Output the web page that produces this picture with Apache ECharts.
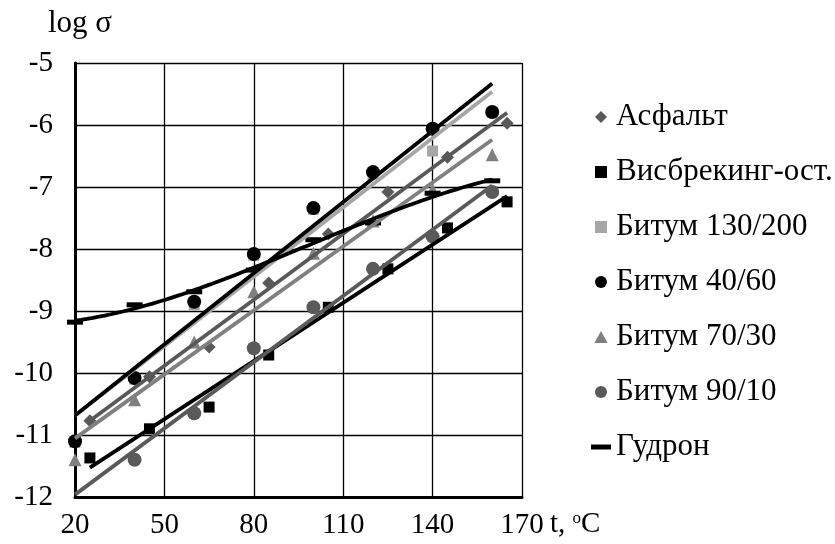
<!DOCTYPE html>
<html>
<head>
<meta charset="utf-8">
<script src="https://cdn.jsdelivr.net/npm/echarts@6/dist/echarts.min.js"></script>
<style>
  html, body { margin: 0; padding: 0; background: #fff; }
  #chart { width: 835px; height: 544px; }
</style>
</head>
<body>
<div id="chart"></div>
<script>
// Temperatures, ºC
const tempsA = [25, 45, 65, 85, 105, 125, 145, 165];
const tempsB = [20, 40, 60, 80, 100, 120, 140, 160];
const temps90 = [40, 60, 80, 100, 120, 140, 160];

// log σ values per material
const asphalt     = [-10.77, -10.06, -9.58, -8.55, -7.76, -7.08, -6.52, -5.97];
const visbreaking = [-11.37, -10.90, -10.55, -9.71, -8.94, -8.32, -7.66, -7.24];
const bit130      = [-11.12, -10.10, -8.90, -8.10, -7.36, -6.80, -6.42, -5.80];
const bit40       = [-11.10, -10.08, -8.85, -8.08, -7.34, -6.76, -6.06, -5.79];
const bit70       = [-11.40, -10.43, -9.50, -8.69, -8.07, -7.55, -7.05, -6.48];
const bit90       = [-11.40, -10.65, -9.60, -8.94, -8.32, -7.80, -7.08];
const tar         = [-9.18, -8.90, -8.69, -8.34, -7.85, -7.58, -7.10, -6.90];

// Axis ticks
const xTicks = [20, 50, 80, 110, 140, 170];
const yTicks = [-12, -11, -10, -9, -8, -7, -6, -5];

// Trend-line span (ºC) for each material
const trendFrom = [25, 25, 20, 20, 20, 20, 20];
const trendTo   = [165, 165, 160, 160, 160, 160, 160];

const FONT = 'Liberation Serif';

function zip(xs, ys) { return xs.map((x, i) => [x, ys[i]]); }

// Least-squares polynomial fit of given order; returns evaluator
function polyFit(xs, ys, order) {
  const c = 90, s = 70;
  const u = xs.map(x => (x - c) / s);
  const n = order + 1;
  const A = Array.from({length: n}, () => new Array(n + 1).fill(0));
  for (let k = 0; k < u.length; k++) {
    const p = [];
    for (let i = 0; i < n; i++) p.push(Math.pow(u[k], i));
    for (let i = 0; i < n; i++) {
      for (let j = 0; j < n; j++) A[i][j] += p[i] * p[j];
      A[i][n] += p[i] * ys[k];
    }
  }
  for (let i = 0; i < n; i++) {
    let piv = i;
    for (let r = i + 1; r < n; r++) if (Math.abs(A[r][i]) > Math.abs(A[piv][i])) piv = r;
    [A[i], A[piv]] = [A[piv], A[i]];
    for (let r = 0; r < n; r++) {
      if (r === i) continue;
      const f = A[r][i] / A[i][i];
      for (let cc = i; cc <= n; cc++) A[r][cc] -= f * A[i][cc];
    }
  }
  const coef = A.map((row, i) => row[n] / row[i]);
  return x => {
    const v = (x - c) / s;
    let y = 0;
    for (let i = 0; i < n; i++) y += coef[i] * Math.pow(v, i);
    return y;
  };
}

function trendData(xs, ys, order, from, to) {
  const f = polyFit(xs, ys, order);
  const steps = order === 1 ? 1 : 70;
  const out = [];
  for (let i = 0; i <= steps; i++) {
    const x = from + (to - from) * i / steps;
    out.push([x, f(x)]);
  }
  return out;
}

const materials = [
  { name: 'Асфальт',          xs: tempsA,  ys: asphalt,     symbol: 'diamond',  size: 13,      color: '#595959', order: 1,
    icon: 'path://M5,0L10,5L5,10L0,5Z' },
  { name: 'Висбрекинг-ост.',  xs: tempsA,  ys: visbreaking, symbol: 'rect',     size: 11,      color: '#000000', order: 1,
    icon: 'path://M0,0H10V10H0Z' },
  { name: 'Битум 130/200',    xs: tempsB,  ys: bit130,      symbol: 'rect',     size: 11,      color: '#a6a6a6', order: 1,
    icon: 'path://M0,0H10V10H0Z' },
  { name: 'Битум 40/60',      xs: tempsB,  ys: bit40,       symbol: 'circle',   size: 14,      color: '#000000', order: 1,
    icon: 'circle' },
  { name: 'Битум 70/30',      xs: tempsB,  ys: bit70,       symbol: 'triangle', size: 13,      color: '#808080', order: 1,
    icon: 'path://M5,0L10,9L0,9Z' },
  { name: 'Битум 90/10',      xs: temps90, ys: bit90,       symbol: 'circle',   size: 14,      color: '#5a5a5a', order: 1,
    icon: 'circle' },
  { name: 'Гудрон',           xs: tempsB,  ys: tar,         symbol: 'rect',     size: [16, 5], color: '#000000', order: 3,
    icon: 'path://M0,0H20V5H0Z' }
];

const series = [];
materials.forEach((m, i) => {
  series.push({
    name: m.name,
    type: 'scatter',
    data: zip(m.xs, m.ys),
    symbol: m.symbol,
    symbolSize: m.size,
    itemStyle: { color: m.color, opacity: 1 },
    z: 2,
    silent: true
  });
});
materials.forEach((m, i) => {
  series.push({
    name: m.name + ' — тренд',
    type: 'line',
    data: trendData(m.xs, m.ys, m.order, trendFrom[i], trendTo[i]),
    showSymbol: false,
    symbol: 'none',
    smooth: false,
    lineStyle: { color: m.color, width: 3.8 },
    itemStyle: { color: m.color },
    z: 3,
    silent: true
  });
});

const chart = echarts.init(document.getElementById('chart'), null, { renderer: 'canvas' });
chart.setOption({
  animation: false,
  backgroundColor: '#ffffff',
  grid: { left: 75, right: 313, top: 63, bottom: 47, containLabel: false },
  xAxis: {
    type: 'value',
    min: xTicks[0],
    max: xTicks[xTicks.length - 1],
    interval: xTicks[1] - xTicks[0],
    axisLine: { show: true, onZero: false, lineStyle: { color: '#000', width: 3 } },
    axisTick: { show: false },
    splitLine: { show: true, lineStyle: { color: '#000', width: 1.3 } },
    axisLabel: { color: '#000', fontFamily: FONT, fontSize: 29, margin: 14 }
  },
  yAxis: {
    type: 'value',
    min: yTicks[0],
    max: yTicks[yTicks.length - 1],
    interval: 1,
    axisLine: { show: true, onZero: false, lineStyle: { color: '#000', width: 3 } },
    axisTick: { show: false },
    splitLine: { show: true, lineStyle: { color: '#000', width: 1.3 } },
    axisLabel: { color: '#000', fontFamily: FONT, fontSize: 29, margin: 22 }
  },
  legend: {
    orient: 'vertical',
    left: 586,
    top: 96,
    itemWidth: 20,
    itemHeight: 12,
    itemGap: 23,
    selectedMode: false,
    textStyle: { color: '#000', fontFamily: FONT, fontSize: 31, lineHeight: 32 },
    data: materials.map(m => ({ name: m.name, icon: m.icon }))
  },
  graphic: [
    {
      type: 'text',
      left: 48, top: 8,
      style: { text: 'log σ', fill: '#000', font: '31px "Liberation Serif"' }
    },
    {
      type: 'text',
      left: 550, top: 510,
      style: {
        text: '{a|t, }{s|o}{a|C}',
        rich: {
          a: { fontFamily: FONT, fontSize: 29, fill: '#000', verticalAlign: 'bottom' },
          s: { fontFamily: FONT, fontSize: 17, fill: '#000', verticalAlign: 'top', padding: [0, 0, 11, 0] }
        }
      }
    }
  ],
  series: series
});
</script>
</body>
</html>
